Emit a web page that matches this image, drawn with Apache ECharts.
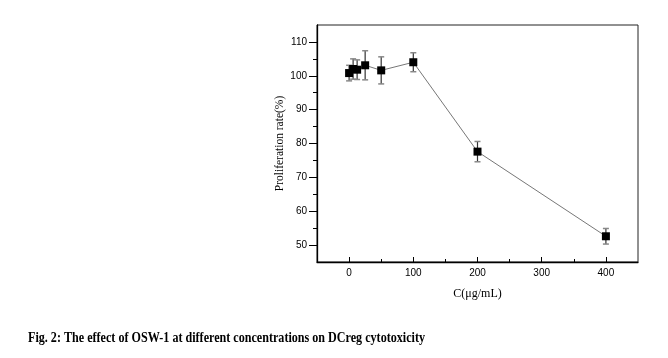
<!DOCTYPE html>
<html>
<head>
<meta charset="utf-8">
<script src="https://cdn.jsdelivr.net/npm/echarts@6/dist/echarts.min.js"></script>
<style>
html,body{margin:0;padding:0;background:#fff;}
#c{width:668px;height:358px;}
</style>
</head>
<body>
<div id="c"></div>
<script>
const concentrations = [0, 6.25, 12.5, 25, 50, 100, 200, 400];
const proliferation = [100.8, 102.0, 101.8, 103.1, 101.6, 104.0, 77.6, 52.6];
const errors = [2.3, 3.0, 2.9, 4.3, 4.0, 2.8, 3.0, 2.3];
const xMajorTicks = [0, 100, 200, 300, 400];
const xMinorTicks = [50, 150, 250, 350];
const yMajorTicks = [50, 60, 70, 80, 90, 100, 110];
const yMinorTicks = [55, 65, 75, 85, 95, 105];
const captionText = 'Fig. 2: The effect of OSW-1 at different concentrations on DCreg cytotoxicity';

const captionFont = 'bold 14px "Liberation Serif"';
const cv = document.createElement('canvas').getContext('2d');
cv.font = captionFont;
const capW = cv.measureText(captionText).width;
const capScale = 397 / capW;

const lineData = concentrations.map((c, i) => [c, proliferation[i]]);
const errData = concentrations.map((c, i) => [c, proliferation[i], errors[i]]);

const chart = echarts.init(document.getElementById('c'), null, {renderer: 'canvas'});
const sans = '"Liberation Sans", Arial, sans-serif';
const serif = '"Liberation Serif", "Times New Roman", serif';
chart.setOption({
  animation: false,
  backgroundColor: '#fff',
  grid: {left: 317, top: 25, width: 321, height: 237, show: true, borderColor: '#222', borderWidth: 1},
  xAxis: [{
    type: 'value', min: -50, max: 450,
    name: 'C(μg/mL)', nameLocation: 'middle', nameGap: 26,
    nameTextStyle: {fontFamily: serif, fontSize: 12, color: '#000'},
    axisLine: {onZero: false, lineStyle: {color: '#000', width: 1.3}},
    axisTick: {inside: true, length: 5, customValues: xMajorTicks, lineStyle: {color: '#000'}},
    axisLabel: {customValues: xMajorTicks, margin: 6, fontFamily: sans, fontSize: 10, color: '#000'},
    splitLine: {show: false}
  }, {
    type: 'value', min: -50, max: 450, position: 'bottom', gridIndex: 0,
    axisLine: {show: false, onZero: false},
    axisTick: {inside: true, length: 3, customValues: xMinorTicks, lineStyle: {color: '#000'}},
    axisLabel: {show: false},
    splitLine: {show: false}
  }],
  yAxis: [{
    type: 'value', min: 45, max: 115,
    name: 'Proliferation rate(%)', nameLocation: 'middle', nameGap: 23,
    nameTextStyle: {fontFamily: serif, fontSize: 11.5, color: '#000'},
    axisLine: {onZero: false, lineStyle: {color: '#000', width: 1.3}},
    axisTick: {inside: false, length: 8, customValues: yMajorTicks, lineStyle: {color: '#000'}},
    axisLabel: {customValues: yMajorTicks, margin: 10, fontFamily: sans, fontSize: 10, color: '#000'},
    splitLine: {show: false}
  }, {
    type: 'value', min: 45, max: 115, position: 'left', gridIndex: 0,
    axisLine: {show: false, onZero: false},
    axisTick: {inside: false, length: 4, customValues: yMinorTicks, lineStyle: {color: '#000'}},
    axisLabel: {show: false},
    splitLine: {show: false}
  }],
  graphic: [{
    type: 'text', left: 28, top: 331, scaleX: capScale,
    style: {text: captionText, font: captionFont, fill: '#000'}
  }],
  series: [{
    type: 'custom',
    xAxisIndex: 0, yAxisIndex: 0,
    z: 1,
    data: errData,
    renderItem: function (params, api) {
      const x = api.value(0), y = api.value(1), e = api.value(2);
      const t = api.coord([x, y + e]);
      const b = api.coord([x, y - e]);
      const hw = 3;
      return {
        type: 'group',
        children: [
          {type: 'line', shape: {x1: t[0], y1: t[1], x2: b[0], y2: b[1]}, style: {stroke: '#333', lineWidth: 1.2}},
          {type: 'line', shape: {x1: t[0] - hw, y1: t[1], x2: t[0] + hw, y2: t[1]}, style: {stroke: '#888', lineWidth: 1.5}},
          {type: 'line', shape: {x1: b[0] - hw, y1: b[1], x2: b[0] + hw, y2: b[1]}, style: {stroke: '#888', lineWidth: 1.5}}
        ]
      };
    }
  }, {
    type: 'line',
    xAxisIndex: 0, yAxisIndex: 0,
    z: 3,
    data: lineData,
    symbol: 'rect', symbolSize: 8,
    itemStyle: {color: '#000'},
    lineStyle: {color: '#777', width: 1}
  }]
});
</script>
</body>
</html>
